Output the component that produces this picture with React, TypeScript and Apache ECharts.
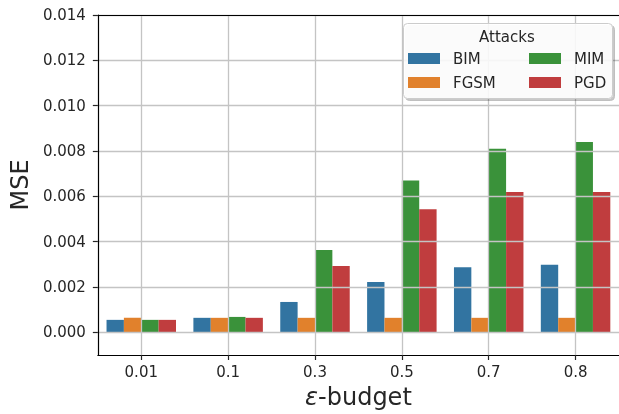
import React, { useEffect, useRef } from "react";
import * as echarts from "echarts";

const categories = ["0.01", "0.1", "0.3", "0.5", "0.7", "0.8"];
const bim = [0.00055, 0.00064, 0.00134, 0.00222, 0.00287, 0.00298];
const fgsm = [0.00064, 0.00064, 0.00064, 0.00064, 0.00064, 0.00064];
const mim = [0.00055, 0.00068, 0.00363, 0.0067, 0.0081, 0.0084];
const pgd = [0.00055, 0.00064, 0.00293, 0.00543, 0.00619, 0.00619];
const yTicks = [0, 0.002, 0.004, 0.006, 0.008, 0.01, 0.012, 0.014];
const catIdx = [0, 1, 2, 3, 4, 5];

const FONT = "DejaVu Sans";
const colors = { BIM: "#3274a1", FGSM: "#e1812c", MIM: "#3a923a", PGD: "#c03d3e" };

export default function App() {
  const ref = useRef<HTMLDivElement>(null);
  useEffect(() => {
    const chart = echarts.init(ref.current!, null, { renderer: "svg" });
    const mk = (name: string, data: number[]) => ({
      name,
      type: "bar",
      data,
      barGap: "0%",
      barCategoryGap: "20%",
      itemStyle: { color: (colors as any)[name] },
      z: 1,
    });
    const legendCommon = {
      orient: "vertical",
      icon: "rect",
      itemWidth: 32,
      itemHeight: 11,
      itemGap: 9,
      padding: 0,
      z: 20,
      textStyle: { fontFamily: FONT, fontSize: 15, color: "#262626", lineHeight: 15, padding: [0, 0, 0, 8] },
      selectedMode: false,
    };
    chart.setOption({
      animation: false,
      textStyle: { fontFamily: FONT },
      grid: { left: 96, top: 15, width: 524, height: 341, containLabel: false },
      legend: [
        { ...legendCommon, left: 408, top: 51, data: ["BIM", "FGSM"] },
        { ...legendCommon, left: 529, top: 51, data: ["MIM", "PGD"] },
      ],
      graphic: [
        {
          type: "rect",
          left: 403,
          top: 23,
          shape: { width: 209, height: 75, r: 4 },
          style: { fill: "rgba(255,255,255,0.85)", stroke: "#cccccc", lineWidth: 1, shadowBlur: 0, shadowOffsetX: 2, shadowOffsetY: 2, shadowColor: "rgba(0,0,0,0.25)" },
          z: 10,
        },
        {
          type: "text",
          left: 479,
          top: 29,
          style: { text: "Attacks", fontFamily: FONT, fontSize: 15, fill: "#262626" },
          z: 11,
        },
      ],
      xAxis: [
        {
          type: "category",
          data: categories,
          position: "bottom",
          z: 5,
          axisLine: { show: true, onZero: false, lineStyle: { color: "#000", width: 1.2 } },
          axisTick: { show: true, alignWithLabel: true, length: 5, lineStyle: { color: "#262626", width: 1.2 } },
          axisLabel: { fontFamily: FONT, fontSize: 15, color: "#262626", margin: 9 },
          splitLine: { show: false },
          name: "{i|ε}-budget",
          nameLocation: "middle",
          nameGap: 30,
          nameTextStyle: {
            fontFamily: FONT,
            fontSize: 24,
            color: "#262626",
            rich: { i: { fontFamily: FONT, fontSize: 24, fontStyle: "italic", color: "#262626" } },
          },
        },
        {
          type: "value",
          position: "top",
          min: -0.5,
          max: 5.5,
          z: 5,
          axisLine: { show: true, onZero: false, lineStyle: { color: "#000", width: 1.2 } },
          axisTick: { show: false, customValues: catIdx },
          axisLabel: { show: false, customValues: catIdx },
          splitLine: { show: true, lineStyle: { color: "#c4c4c4", width: 1.3 } },
        },
      ],
      yAxis: {
        type: "value",
        min: -0.001,
        max: 0.014,
        z: 5,
        axisLine: { show: true, onZero: false, lineStyle: { color: "#000", width: 1.2 } },
        axisTick: { show: true, length: 5, customValues: yTicks, lineStyle: { color: "#262626", width: 1.2 } },
        axisLabel: {
          fontFamily: FONT,
          fontSize: 15,
          color: "#262626",
          margin: 12,
          customValues: yTicks,
          formatter: (v: number) => v.toFixed(3),
        },
        splitLine: { show: true, lineStyle: { color: "#c4c4c4", width: 1.3 } },
        name: "MSE",
        nameLocation: "middle",
        nameGap: 62,
        nameTextStyle: { fontFamily: FONT, fontSize: 24, color: "#262626" },
      },
      series: [mk("BIM", bim), mk("FGSM", fgsm), mk("MIM", mim), mk("PGD", pgd)],
    });
    return () => chart.dispose();
  }, []);
  return <div ref={ref} style={{ position: "fixed", left: 0, top: 0, width: 619, height: 414 }} />;
}
